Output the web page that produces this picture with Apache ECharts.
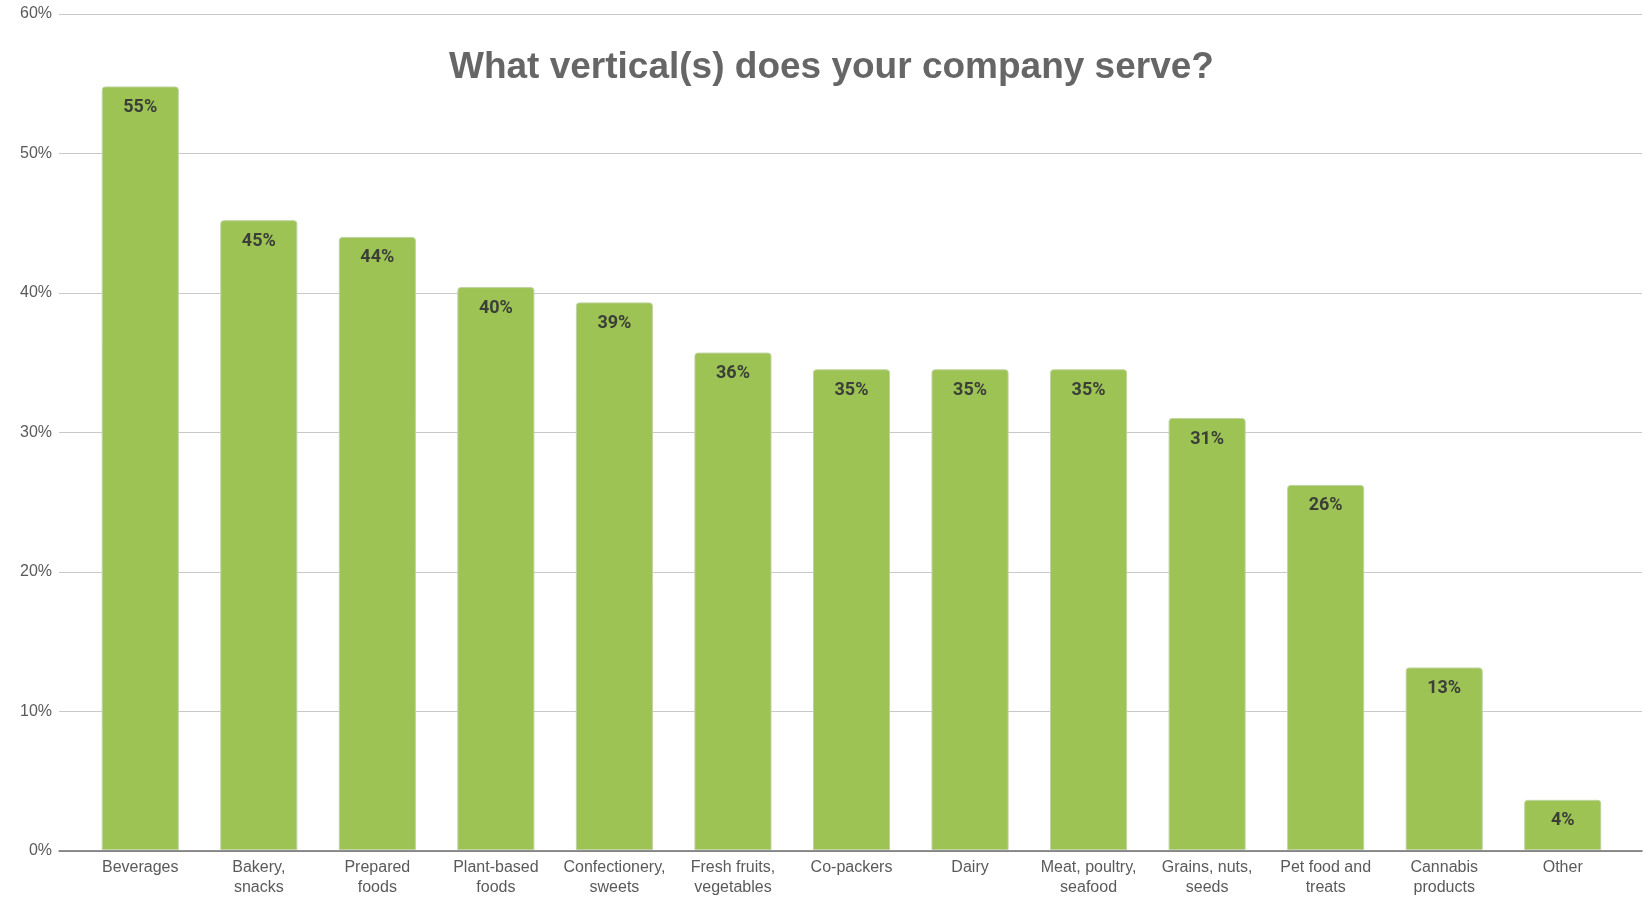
<!DOCTYPE html>
<html>
<head>
<meta charset="utf-8">
<title>What vertical(s) does your company serve?</title>
<script src="https://cdn.jsdelivr.net/npm/echarts@6/dist/echarts.min.js"></script>
<style>
  html, body { margin: 0; padding: 0; background: #ffffff; }
  #chart { width: 1652px; height: 898px; }
</style>
</head>
<body>
<div id="chart"></div>
<script>
// Survey responses: share of companies serving each vertical (%)
const categories = [
  'Beverages', 'Bakery,\nsnacks', 'Prepared\nfoods', 'Plant-based\nfoods',
  'Confectionery,\nsweets', 'Fresh fruits,\nvegetables', 'Co-packers', 'Dairy',
  'Meat, poultry,\nseafood', 'Grains, nuts,\nseeds', 'Pet food and\ntreats',
  'Cannabis\nproducts', 'Other'
];
const shares = [54.8, 45.2, 44.0, 40.4, 39.3, 35.7, 34.5, 34.5, 34.5, 31.0, 26.2, 13.1, 3.6];

// Value axis range and step
const yMin = 0;
const yMax = 60;
const yStep = 10;

const titleText = 'What vertical(s) does your company serve?';

const chart = echarts.init(document.getElementById('chart'), null, { renderer: 'canvas' });

const axisFont = "'Liberation Sans', Arial, Helvetica, sans-serif";

chart.setOption({
  backgroundColor: '#ffffff',
  animation: false,
  title: {
    text: titleText,
    left: 444,
    top: 44,
    textStyle: {
      fontFamily: axisFont,
      fontSize: 37,
      fontWeight: 'bold',
      color: '#666666'
    }
  },
  grid: [
    // full-width frame carrying the gridlines, baseline and value labels
    { left: 59, right: 10, top: 14, bottom: 47 },
    // inner band holding the bars and category labels
    { left: 81, right: 30, top: 14, bottom: 47 }
  ],
  xAxis: [
    {
      gridIndex: 0,
      type: 'value',
      min: 0,
      max: 1,
      axisLine: { show: true, lineStyle: { color: '#6e6e6e', width: 1.5 } },
      axisTick: { show: false },
      axisLabel: { show: false },
      splitLine: { show: false }
    },
    {
      gridIndex: 1,
      type: 'category',
      data: categories,
      axisLine: { show: false },
      axisTick: { show: false },
      axisLabel: {
        interval: 0,
        margin: 8,
        fontFamily: axisFont,
        fontSize: 16,
        lineHeight: 20,
        color: '#5a5a5a'
      }
    }
  ],
  yAxis: [
    {
      gridIndex: 0,
      type: 'value',
      min: yMin,
      max: yMax,
      interval: yStep,
      axisLine: { show: false },
      axisTick: { show: false },
      axisLabel: {
        margin: 7,
        formatter: '{value}%',
        fontFamily: axisFont,
        fontSize: 16,
        color: '#5a5a5a'
      },
      splitLine: { lineStyle: { color: '#c9c9c9', width: 1.2 } }
    },
    {
      gridIndex: 1,
      type: 'value',
      min: yMin,
      max: yMax,
      interval: yStep,
      show: false,
      splitLine: { show: false }
    }
  ],
  series: [
    {
      type: 'bar',
      xAxisIndex: 1,
      yAxisIndex: 1,
      data: shares,
      barWidth: '65%',
      itemStyle: {
        color: '#9cc354',
        borderColor: '#bfd3a0',
        borderWidth: 1,
        borderRadius: [3, 3, 0, 0]
      },
      label: {
        show: true,
        position: 'insideTop',
        distance: 12,
        formatter: p => Math.round(p.value) + '%',
        fontFamily: "Roboto, 'Liberation Sans', Arial, sans-serif",
        fontSize: 18,
        fontWeight: 'bold',
        color: '#3b3f38'
      }
    }
  ]
});
</script>
</body>
</html>
